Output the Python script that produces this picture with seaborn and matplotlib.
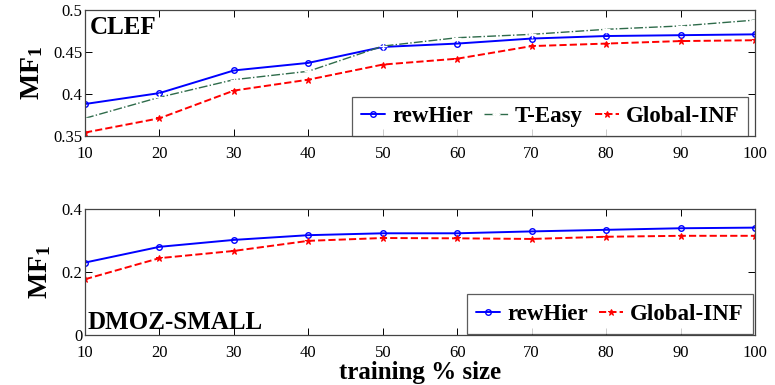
import matplotlib
matplotlib.use("Agg")
import matplotlib.pyplot as plt
import seaborn as sns
import pandas as pd

# ---- data ----
train_size = [10, 20, 30, 40, 50, 60, 70, 80, 90, 100]

clef_rewhier = [0.388, 0.401, 0.428, 0.437, 0.456, 0.460, 0.466, 0.469, 0.470, 0.471]
clef_teasy = [0.371, 0.396, 0.417, 0.427, 0.457, 0.467, 0.471, 0.477, 0.481, 0.488]
clef_global = [0.354, 0.371, 0.404, 0.417, 0.435, 0.442, 0.457, 0.460, 0.463, 0.464]

dmoz_rewhier = [0.230, 0.280, 0.302, 0.317, 0.323, 0.323, 0.329, 0.334, 0.339, 0.341]
dmoz_global = [0.177, 0.244, 0.267, 0.299, 0.308, 0.307, 0.305, 0.312, 0.315, 0.315]

clef_yticks = [0.35, 0.4, 0.45, 0.5]
clef_yticklabels = ["0.35", "0.4", "0.45", "0.5"]
dmoz_yticks = [0.0, 0.2, 0.4]
dmoz_yticklabels = ["0", "0.2", "0.4"]

sns.set_style("ticks")
plt.rcParams["font.family"] = ["Liberation Serif", "DejaVu Serif"]
plt.rcParams["mathtext.fontset"] = "custom"
plt.rcParams["mathtext.rm"] = "Liberation Serif"
plt.rcParams["mathtext.bf"] = "Liberation Serif:bold"
plt.rcParams["text.color"] = "black"
plt.rcParams["axes.labelcolor"] = "black"
plt.rcParams["xtick.color"] = "black"
plt.rcParams["ytick.color"] = "black"

fig = plt.figure(figsize=(7.75, 3.85), dpi=100)
ax1 = fig.add_axes([0.1097, 0.647, 0.8645, 0.327])
ax2 = fig.add_axes([0.1097, 0.130, 0.8645, 0.327])

styles = {
    "rewHier": dict(color="#0000ff", linestyle="-", marker="o", markersize=4,
                    markerfacecolor="none", markeredgecolor="#0000ff", markeredgewidth=1.0, linewidth=1.4),
    "T-Easy": dict(color="#2e6b4a", linestyle="-.", marker="+", markersize=6,
                   markeredgewidth=1.0, linewidth=1.0),
    "Global-INF": dict(color="#ff0000", linestyle="--", marker="*", markersize=5,
                       markeredgecolor="#ff0000", linewidth=1.4),
}

def draw(ax, series):
    for name, vals in series:
        df = pd.DataFrame({"x": train_size, "y": vals})
        st = dict(styles[name])
        ls = st.pop("linestyle")
        sns.lineplot(data=df, x="x", y="y", ax=ax, label=name, linestyle=ls, **st)

draw(ax1, [("rewHier", clef_rewhier), ("T-Easy", clef_teasy), ("Global-INF", clef_global)])
draw(ax2, [("rewHier", dmoz_rewhier), ("Global-INF", dmoz_global)])

for ax, yt, ytl, ylim, xpad in [(ax1, clef_yticks, clef_yticklabels, (0.35, 0.5), 7),
                                (ax2, dmoz_yticks, dmoz_yticklabels, (0.0, 0.4), 7)]:
    ax.set_xlim(10, 100)
    ax.set_ylim(*ylim)
    ax.set_xticks(train_size)
    ax.set_xticklabels([str(v) for v in train_size], fontsize=12)
    ax.set_yticks(yt)
    ax.set_yticklabels(ytl, fontsize=12)
    ax.tick_params(direction="in", top=True, right=True, length=5, width=0.7, colors="black")
    ax.tick_params(axis="y", pad=2)
    ax.tick_params(axis="x", pad=xpad)
    for sp in ax.spines.values():
        sp.set_visible(True)
        sp.set_color("#444444")
        sp.set_linewidth(0.9)
    ax.set_ylabel(r"$\mathbf{MF_1}$", fontsize=20, labelpad=6)
    ax.set_xlabel("")

ax2.set_xlabel("training % size", fontsize=18, fontweight="bold", labelpad=0)

ax1.text(0.007, 0.95, "CLEF", transform=ax1.transAxes, fontsize=18, fontweight="bold",
         va="top", ha="left")
ax2.text(0.004, 0.01, "DMOZ-SMALL", transform=ax2.transAxes, fontsize=18, fontweight="bold",
         va="bottom", ha="left")

leg_kw = dict(ncol=3, frameon=True, fancybox=False, handlelength=1.05, handletextpad=0.3,
              columnspacing=0.5, borderpad=0.4, borderaxespad=0.0,
              prop={"weight": "bold", "size": 16.5})
l1 = ax1.legend(loc="lower right", bbox_to_anchor=(0.99, 0.0), **leg_kw)
l2 = ax2.legend(loc="lower right", bbox_to_anchor=(0.997, 0.01), **leg_kw)
for l in (l1, l2):
    l.get_frame().set_edgecolor("#333333")
    l.get_frame().set_linewidth(0.9)

fig.savefig("out.png", dpi=100)
